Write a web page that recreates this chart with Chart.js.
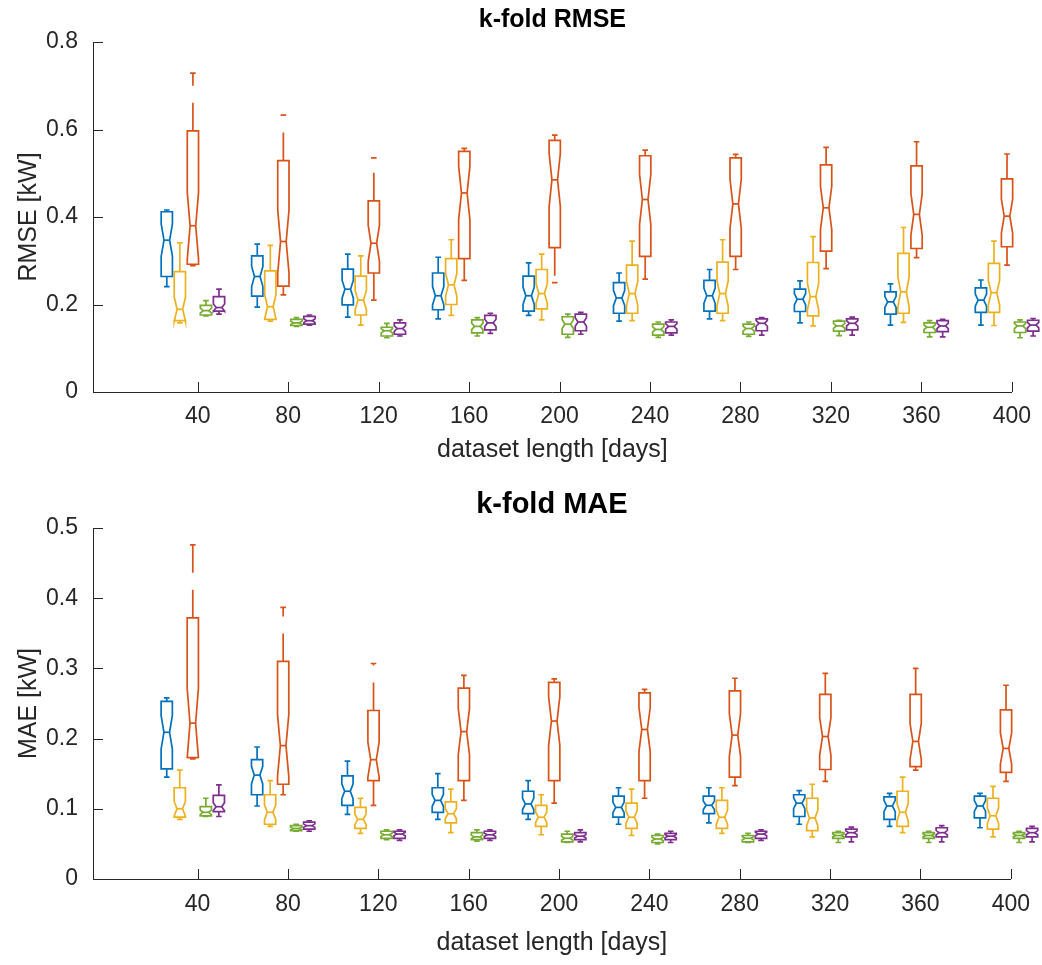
<!DOCTYPE html>
<html>
<head>
<meta charset="utf-8">
<script src="https://cdn.jsdelivr.net/npm/chart.js@4.4.1/dist/chart.umd.min.js"></script>
<style>
  body { margin: 0; background: #fff; }
  .wrap { position: absolute; left: 0; width: 1042px; }
</style>
</head>
<body>
<div class="wrap" style="top:0;height:483px"><canvas id="rmseChart" width="1042" height="483"></canvas></div>
<div class="wrap" style="top:483px;height:482px"><canvas id="maeChart" width="1042" height="482"></canvas></div>
<script>
var days = [40, 80, 120, 160, 200, 240, 280, 320, 360, 400];
var rmseTicks = [0, 0.2, 0.4, 0.6, 0.8];
var maeTicks = [0, 0.1, 0.2, 0.3, 0.4, 0.5];

// one entry per day: [lower whisker, q1, median, q3, upper whisker]
var rmseBlue = [
  [0.241, 0.264, 0.347, 0.412, 0.416], [0.194, 0.219, 0.264, 0.311, 0.338],
  [0.171, 0.199, 0.235, 0.281, 0.315], [0.167, 0.188, 0.220, 0.272, 0.308],
  [0.175, 0.185, 0.220, 0.265, 0.295], [0.162, 0.180, 0.215, 0.250, 0.272],
  [0.167, 0.185, 0.220, 0.255, 0.280], [0.158, 0.184, 0.212, 0.235, 0.254],
  [0.153, 0.178, 0.206, 0.229, 0.247], [0.153, 0.182, 0.210, 0.238, 0.256]
];
var rmseYellow = [
  [0.158, 0.163, 0.189, 0.275, 0.341], [0.162, 0.166, 0.195, 0.277, 0.335],
  [0.153, 0.176, 0.210, 0.265, 0.311], [0.175, 0.200, 0.245, 0.305, 0.348],
  [0.165, 0.190, 0.225, 0.280, 0.315], [0.163, 0.180, 0.225, 0.290, 0.345],
  [0.163, 0.180, 0.225, 0.297, 0.348], [0.151, 0.174, 0.218, 0.296, 0.355],
  [0.159, 0.180, 0.229, 0.317, 0.376], [0.152, 0.182, 0.227, 0.294, 0.345]
];
var rmseOrange = [
  [0.289, 0.292, 0.380, 0.597, 0.729], [0.222, 0.242, 0.344, 0.529, 0.633],
  [0.210, 0.272, 0.340, 0.437, 0.535], [0.255, 0.305, 0.455, 0.550, 0.557],
  [0.250, 0.330, 0.485, 0.575, 0.587], [0.258, 0.310, 0.440, 0.540, 0.553],
  [0.280, 0.310, 0.430, 0.535, 0.543], [0.282, 0.322, 0.421, 0.519, 0.559],
  [0.307, 0.328, 0.406, 0.517, 0.572], [0.290, 0.332, 0.402, 0.487, 0.544]
];
var rmseGreen = [
  [0.174, 0.176, 0.186, 0.198, 0.209], [0.150, 0.152, 0.158, 0.166, 0.170],
  [0.124, 0.128, 0.140, 0.148, 0.157], [0.128, 0.135, 0.150, 0.165, 0.170],
  [0.125, 0.132, 0.155, 0.172, 0.178], [0.125, 0.130, 0.143, 0.155, 0.160],
  [0.127, 0.132, 0.145, 0.155, 0.160], [0.129, 0.139, 0.151, 0.162, 0.164],
  [0.126, 0.136, 0.148, 0.158, 0.163], [0.124, 0.136, 0.151, 0.160, 0.165]
];
var rmsePurple = [
  [0.178, 0.185, 0.193, 0.218, 0.235], [0.153, 0.155, 0.163, 0.173, 0.176],
  [0.128, 0.132, 0.145, 0.158, 0.165], [0.134, 0.142, 0.158, 0.175, 0.180],
  [0.132, 0.140, 0.160, 0.178, 0.182], [0.130, 0.135, 0.150, 0.160, 0.165],
  [0.130, 0.140, 0.157, 0.167, 0.170], [0.130, 0.142, 0.157, 0.167, 0.171],
  [0.126, 0.138, 0.151, 0.163, 0.166], [0.128, 0.139, 0.153, 0.164, 0.168]
];

var maeBlue = [
  [0.145, 0.157, 0.209, 0.253, 0.258], [0.104, 0.120, 0.148, 0.170, 0.188],
  [0.092, 0.105, 0.125, 0.147, 0.168], [0.085, 0.095, 0.112, 0.130, 0.150],
  [0.085, 0.093, 0.107, 0.125, 0.140], [0.078, 0.088, 0.102, 0.118, 0.130],
  [0.080, 0.093, 0.105, 0.118, 0.130], [0.078, 0.089, 0.108, 0.120, 0.126],
  [0.075, 0.085, 0.104, 0.117, 0.122], [0.073, 0.087, 0.104, 0.118, 0.122]
];
var maeYellow = [
  [0.085, 0.088, 0.100, 0.130, 0.155], [0.075, 0.078, 0.095, 0.120, 0.140],
  [0.065, 0.072, 0.085, 0.102, 0.115], [0.066, 0.080, 0.093, 0.110, 0.128],
  [0.063, 0.075, 0.088, 0.105, 0.120], [0.062, 0.072, 0.088, 0.108, 0.128],
  [0.065, 0.072, 0.088, 0.112, 0.130], [0.060, 0.069, 0.087, 0.115, 0.135],
  [0.066, 0.075, 0.095, 0.125, 0.145], [0.060, 0.071, 0.090, 0.115, 0.132]
];
var maeOrange = [
  [0.171, 0.173, 0.222, 0.372, 0.476], [0.120, 0.135, 0.190, 0.310, 0.387],
  [0.105, 0.140, 0.170, 0.240, 0.307], [0.112, 0.140, 0.210, 0.272, 0.290],
  [0.108, 0.140, 0.225, 0.280, 0.285], [0.115, 0.140, 0.213, 0.265, 0.270],
  [0.133, 0.145, 0.205, 0.268, 0.286], [0.139, 0.156, 0.203, 0.263, 0.293],
  [0.155, 0.160, 0.196, 0.263, 0.300], [0.139, 0.152, 0.186, 0.241, 0.276]
];
var maeGreen = [
  [0.089, 0.090, 0.095, 0.103, 0.115], [0.068, 0.069, 0.072, 0.076, 0.078],
  [0.056, 0.058, 0.063, 0.068, 0.070], [0.054, 0.056, 0.060, 0.066, 0.070],
  [0.052, 0.053, 0.058, 0.064, 0.068], [0.050, 0.052, 0.057, 0.062, 0.064],
  [0.052, 0.053, 0.058, 0.062, 0.065], [0.052, 0.058, 0.062, 0.066, 0.068],
  [0.052, 0.058, 0.062, 0.066, 0.068], [0.052, 0.058, 0.062, 0.066, 0.068]
];
var maePurple = [
  [0.089, 0.096, 0.103, 0.119, 0.134], [0.068, 0.071, 0.076, 0.081, 0.083],
  [0.055, 0.058, 0.064, 0.068, 0.070], [0.055, 0.058, 0.063, 0.068, 0.070],
  [0.053, 0.056, 0.061, 0.066, 0.070], [0.052, 0.056, 0.061, 0.065, 0.068],
  [0.055, 0.058, 0.064, 0.068, 0.070], [0.053, 0.060, 0.066, 0.071, 0.074],
  [0.053, 0.060, 0.066, 0.073, 0.076], [0.053, 0.060, 0.066, 0.072, 0.075]
];

var colors = ['#0072BD', '#EDB120', '#D95319', '#77AC30', '#7E2F8E'];
var FONT = '"Liberation Sans", Arial, Helvetica, sans-serif';
var AXIS = '#262626';

var NOTCH = 0.25;      // notch half height, fraction of IQR
var BOX_STEP = 5.77;   // x units between neighbouring boxes
var BOX_SHIFT = -2.12; // middle box offset from the tick
var BOX_WIDTH = 4.98;  // x units

var notchedBoxes = {
  id: 'notchedBoxes',
  afterDatasetsDraw: function (chart) {
    var ctx = chart.ctx, xs = chart.scales.x, ys = chart.scales.y;
    ctx.save();
    ctx.lineWidth = 1.7;
    ctx.lineJoin = 'miter';
    chart.data.datasets.forEach(function (ds, i) {
      var off = BOX_SHIFT + (i - 2) * BOX_STEP;
      ctx.strokeStyle = ds.borderColor;
      ds.stats.forEach(function (s, j) {
        var xc = xs.getPixelForValue(days[j] + off);
        var hw = xs.getPixelForValue(days[j] + off + BOX_WIDTH / 2) - xc;
        var L = xc - hw, R = xc + hw, iL = xc - hw / 2, iR = xc + hw / 2;
        var n = NOTCH * (s[3] - s[1]);
        var lo = ys.getPixelForValue(s[0]), q1 = ys.getPixelForValue(s[1]);
        var md = ys.getPixelForValue(s[2]), q3 = ys.getPixelForValue(s[3]);
        var hi = ys.getPixelForValue(s[4]);
        var nlo = ys.getPixelForValue(s[2] - n), nhi = ys.getPixelForValue(s[2] + n);

        // whiskers (dashed, starting at the box edge)
        ctx.setLineDash([28, 17]);
        ctx.beginPath();
        ctx.moveTo(xc, q3); ctx.lineTo(xc, hi);
        ctx.moveTo(xc, q1); ctx.lineTo(xc, lo);
        ctx.stroke();
        ctx.setLineDash([]);

        // caps
        ctx.beginPath();
        ctx.moveTo(xc - hw / 2, hi); ctx.lineTo(xc + hw / 2, hi);
        ctx.moveTo(xc - hw / 2, lo); ctx.lineTo(xc + hw / 2, lo);
        ctx.stroke();

        // notched box
        ctx.beginPath();
        ctx.moveTo(L, q1);
        ctx.lineTo(L, nlo);
        ctx.lineTo(iL, md);
        ctx.lineTo(L, nhi);
        ctx.lineTo(L, q3);
        ctx.lineTo(R, q3);
        ctx.lineTo(R, nhi);
        ctx.lineTo(iR, md);
        ctx.lineTo(R, nlo);
        ctx.lineTo(R, q1);
        ctx.closePath();
        ctx.stroke();

        // median
        ctx.beginPath();
        ctx.moveTo(iL, md); ctx.lineTo(iR, md);
        ctx.stroke();
      });
    });
    ctx.restore();
  }
};

// matlab style ticks pointing into the axes
var innerTicks = {
  id: 'innerTicks',
  afterDraw: function (chart) {
    var ctx = chart.ctx, xs = chart.scales.x, ys = chart.scales.y, a = chart.chartArea;
    ctx.save();
    ctx.strokeStyle = AXIS;
    ctx.lineWidth = 1;
    ctx.beginPath();
    xs.ticks.forEach(function (t) {
      var px = Math.round(xs.getPixelForValue(t.value)) + 0.5;
      ctx.moveTo(px, a.bottom); ctx.lineTo(px, a.bottom - 10);
    });
    ys.ticks.forEach(function (t) {
      var py = Math.round(ys.getPixelForValue(t.value)) + 0.5;
      ctx.moveTo(a.left, py); ctx.lineTo(a.left + 10, py);
    });
    ctx.stroke();
    ctx.restore();
  }
};

function makeChart(id, cfg) {
  var datasets = cfg.series.map(function (stats, i) {
    var off = BOX_SHIFT + (i - 2) * BOX_STEP;
    return {
      label: 'series ' + (i + 1),
      data: stats.map(function (s, j) { return { x: days[j] + off, y: s[2] }; }),
      stats: stats,
      borderColor: colors[i],
      backgroundColor: colors[i],
      pointRadius: 0,
      showLine: false
    };
  });
  return new Chart(document.getElementById(id), {
    type: 'scatter',
    data: { datasets: datasets },
    plugins: [notchedBoxes, innerTicks],
    options: {
      responsive: false,
      animation: false,
      layout: { padding: { left: 0, right: 27, top: 0, bottom: 0 } },
      plugins: {
        legend: { display: false },
        tooltip: { enabled: false },
        title: {
          display: true,
          fullSize: false,
          text: cfg.title,
          color: '#000',
          font: { family: FONT, size: cfg.titleSize, weight: 'bold' },
          padding: cfg.titlePad
        }
      },
      scales: {
        x: {
          type: 'linear',
          min: -6.3,
          max: 400,
          afterBuildTicks: function (s) { s.ticks = days.map(function (v) { return { value: v }; }); },
          afterFit: function (s) { s.height = cfg.xHeight; },
          grid: { display: false, drawTicks: false },
          border: { display: true, color: AXIS, width: 1 },
          ticks: { color: AXIS, font: { family: FONT, size: 23 }, padding: cfg.xTickPad, maxRotation: 0, autoSkip: false },
          title: {
            display: true,
            text: 'dataset length [days]',
            color: AXIS,
            font: { family: FONT, size: 25 },
            padding: { top: 0, bottom: cfg.xTitlePad }
          }
        },
        y: {
          min: 0,
          max: cfg.yMax,
          afterBuildTicks: function (s) { s.ticks = cfg.yTicks.map(function (v) { return { value: v }; }); },
          afterFit: function (s) { s.width = 93; },
          grid: { display: false, drawTicks: false },
          border: { display: true, color: AXIS, width: 1 },
          ticks: { color: AXIS, font: { family: FONT, size: 23 }, padding: 15,
                   callback: function (v) { return String(v); } },
          title: {
            display: true,
            text: cfg.yLabel,
            color: AXIS,
            font: { family: FONT, size: 25 },
            padding: { top: 14, bottom: 0 }
          }
        }
      }
    }
  });
}

makeChart('rmseChart', {
  title: 'k-fold RMSE', titleSize: 25, titlePad: { top: 5, bottom: 7 },
  yLabel: 'RMSE [kW]', yMax: 0.8, yTicks: rmseTicks,
  series: [rmseBlue, rmseYellow, rmseOrange, rmseGreen, rmsePurple],
  xHeight: 91, xTickPad: 11, xTitlePad: 18
});
makeChart('maeChart', {
  title: 'k-fold MAE', titleSize: 29, titlePad: { top: 5, bottom: 5.2 },
  yLabel: 'MAE [kW]', yMax: 0.5, yTicks: maeTicks,
  series: [maeBlue, maeYellow, maeOrange, maeGreen, maePurple],
  xHeight: 86, xTickPad: 12, xTitlePad: 7
});
</script>
</body>
</html>
